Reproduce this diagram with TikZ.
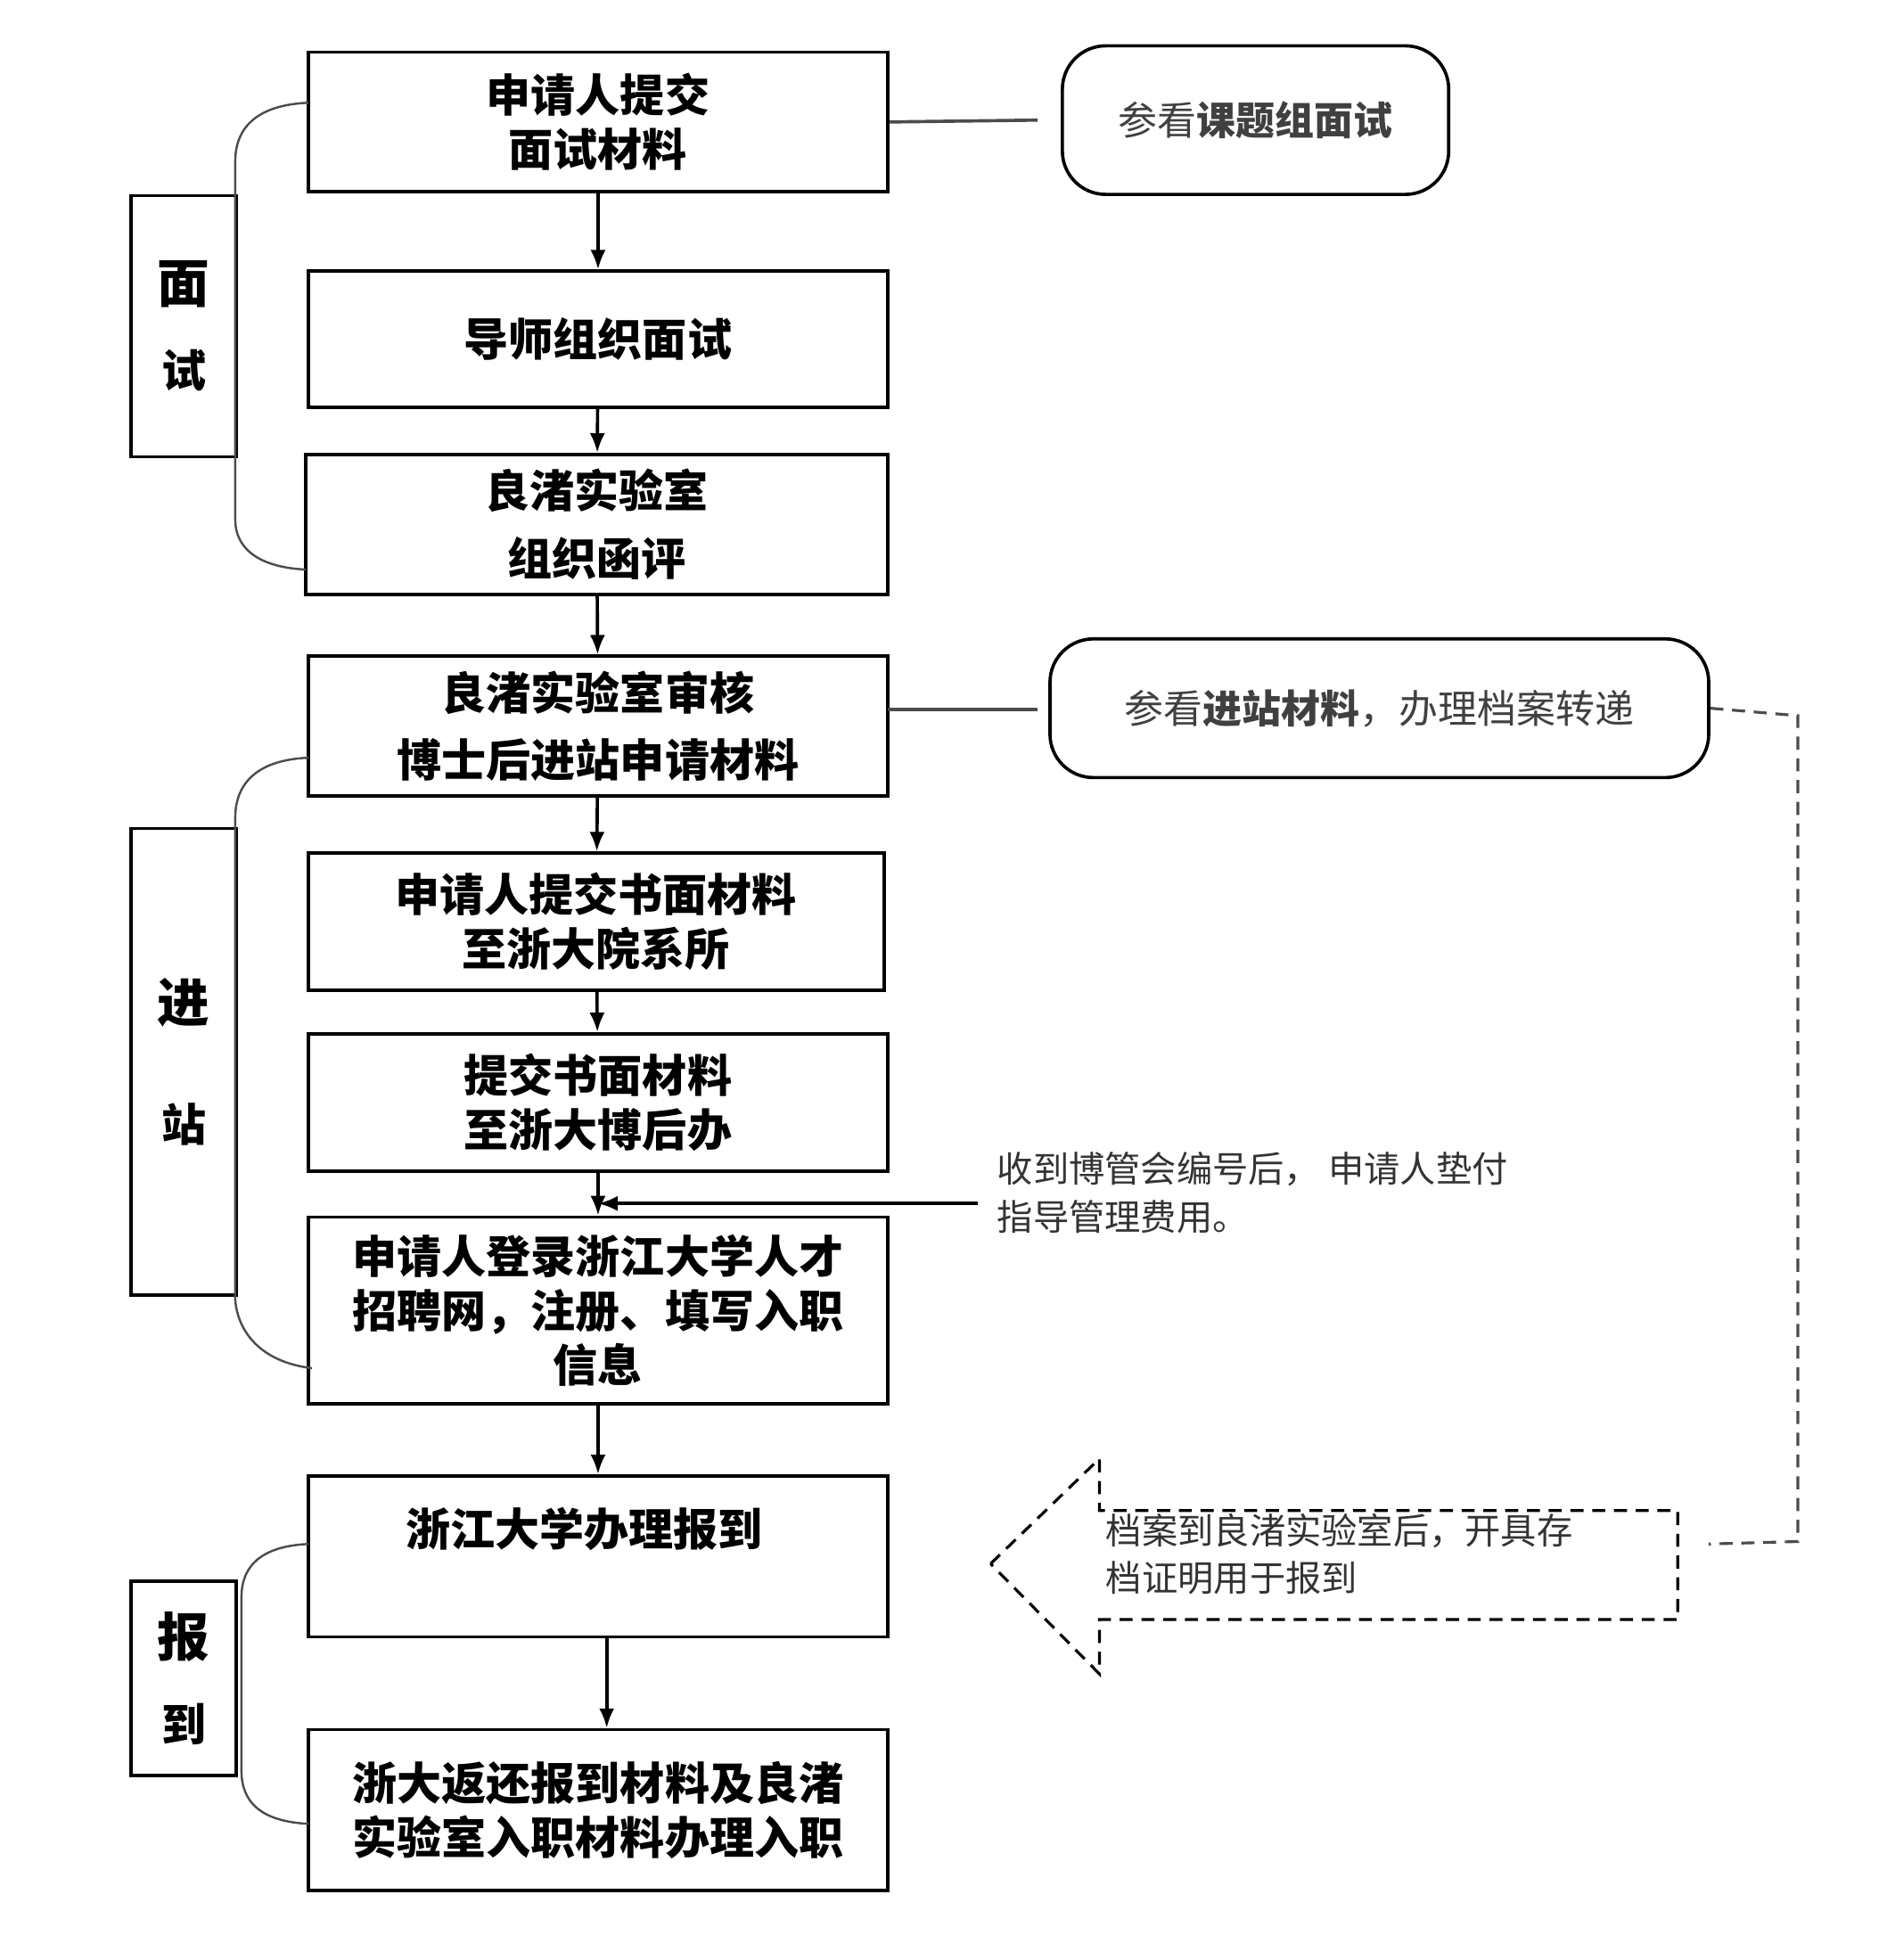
\documentclass[tikz,border=0pt]{standalone}
\usepackage{fontspec}
\newfontfamily\cjk{Noto Sans CJK SC}
\usetikzlibrary{arrows.meta}
\begin{document}
\begin{tikzpicture}[x=0.02cm,y=-0.02cm,
 box/.style={draw,line width=1.5pt,inner sep=0pt,align=center,font=\cjk\bfseries\fontsize{20.5}{25}\selectfont},
 rnd/.style={draw,line width=1.5pt,rounded corners=0.7cm,inner sep=0pt,font=\cjk\fontsize{18}{22}\selectfont,text=black!75},
 arr/.style={-{Latex[length=9pt,width=7pt]},line width=1.5pt},
 brace/.style={line width=1pt,draw=black!70},
 dsh/.style={dash pattern=on 6pt off 4pt,line width=1.3pt},
 note/.style={font=\cjk\fontsize{16.5}{22}\selectfont,align=left,anchor=north west,inner sep=0pt,text=black!80}]
\useasboundingbox (0,0) rectangle (1530,1583);
\def\bx#1#2#3#4#5#6{\node[box,minimum width={(#3-#2)*0.02cm},minimum height={(#5-#4)*0.02cm}] (#1) at ({(#2+#3)/2},{(#4+#5)/2}) {#6};}
\bx{b1}{249}{717}{42}{155}{申请人提交\\面试材料}
\bx{b2}{249}{717}{219}{329}{导师组织面试}
\bx{b3}{247}{717}{367}{480}{良渚实验室\\[6pt]组织函评}
\bx{b4}{249}{717}{530}{643}{良渚实验室审核\\[6pt]博士后进站申请材料}
\bx{b5}{249}{714}{689}{800}{申请人提交书面材料\\至浙大院系所}
\bx{b6}{249}{717}{835}{946}{提交书面材料\\至浙大博后办}
\bx{b7}{249}{717}{983}{1134}{申请人登录浙江大学人才\\招聘网，注册、填写入职\\信息}
\node[draw,line width=1.5pt,minimum width={468*0.02cm},minimum height={130*0.02cm},inner sep=0pt] (b8) at (483,1257) {};
\node[font=\cjk\bfseries\fontsize{20.5}{25}\selectfont] at (472,1235) {浙江大学办理报到};
\bx{b9}{249}{717}{1397}{1527}{浙大返还报到材料及良渚\\实验室入职材料办理入职}
\bx{s1}{106}{191}{158}{369}{\fontsize{24}{40}\selectfont 面\\[14pt]试}
\bx{s2}{106}{191}{669}{1046}{\fontsize{24}{40}\selectfont 进\\[30pt]站}
\bx{s3}{106}{191}{1277}{1434}{\fontsize{24}{40}\selectfont 报\\[14pt]到}
\node[rnd,minimum width={312*0.02cm},minimum height={120*0.02cm}] (r1) at (1014,97) {参看\textbf{课题组面试}};
\node[rnd,minimum width={532*0.02cm},minimum height={112*0.02cm}] (r2) at (1114,572) {参看\textbf{进站材料}，办理档案转递};
\draw[line width=1.5pt,draw=black!70] (b1.east) -- (838,97);
\draw[line width=1.5pt,draw=black!70] (717,573) -- (838,573);
\draw[arr] (b1) -- (b2);
\draw[arr] (b2) -- (b3);
\draw[arr] (b3) -- (b4);
\draw[arr] (b4) -- (b5);
\draw[arr] (b5) -- (b6);
\draw[arr] (b6) -- (b7);
\draw[arr] (b7) -- (b8);
\draw[arr] (b8.south-|490,0) -- (b9.north-|490,0);
\coordinate (n1) at (790,972);
\draw[arr] (n1) -- (483,972);
\node[note] at (805,930) {收到博管会编号后， 申请人垫付\\指导管理费用。};
\draw[brace] (249,83) .. controls (200,85) and (190,110) .. (190,130) -- (190,420) .. controls (190,440) and (205,458) .. (247,460);
\draw[brace] (249,612) .. controls (200,614) and (190,640) .. (190,660) -- (190,1050) .. controls (192,1075) and (210,1100) .. (252,1105);
\draw[brace] (249,1247) .. controls (205,1249) and (195,1270) .. (195,1290) -- (195,1430) .. controls (195,1455) and (210,1471) .. (249,1473);
\draw[dsh,draw=black!70] (r2.east) -- (1452,578) -- (1452,1245) -- (1380,1247);
\draw[dsh] (800,1263) -- (888,1178) -- (888,1220) -- (1355,1220) -- (1355,1308) -- (888,1308) -- (888,1352) -- cycle;
\node[note] (n2) at (893,1222) {档案到良渚实验室后，开具存\\档证明用于报到};
\end{tikzpicture}
\end{document}
